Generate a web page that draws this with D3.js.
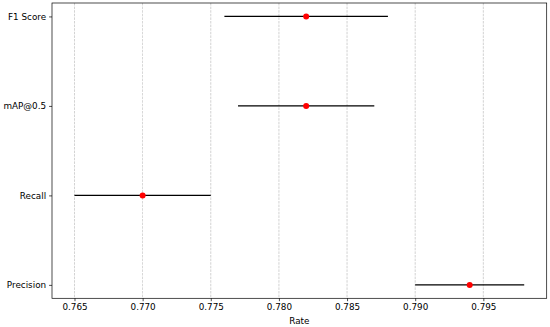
<!DOCTYPE html>
<html><head><meta charset="utf-8">
<script src="https://cdn.jsdelivr.net/npm/d3@7/dist/d3.min.js"></script>
<style>body{margin:0;background:#fff;} text{font-family:"DejaVu Sans",sans-serif;}</style>
</head><body><svg id="c" width="550" height="327"></svg>
<script>
const categories = ["Precision", "Recall", "mAP@0.5", "F1 Score"];
const means = [0.794, 0.770, 0.782, 0.782];
const lows = [0.790, 0.765, 0.777, 0.776];
const highs = [0.798, 0.775, 0.787, 0.788];
const xTicks = [0.765, 0.770, 0.775, 0.780, 0.785, 0.790, 0.795];

const svg = d3.select("#c");
const L = 52, R = 546.7, T = 3, B = 298.3;
const fs = 8.8;
const x = d3.scaleLinear().domain([0.76335, 0.79965]).range([L, R]);
const y = d3.scaleLinear().domain([-0.15, 3.15]).range([B, T]);

// grid
svg.append("g").selectAll("line").data(xTicks).join("line")
  .attr("x1", d => x(d)).attr("x2", d => x(d)).attr("y1", T).attr("y2", B)
  .attr("stroke", "#b0b0b0").attr("stroke-width", 0.7).attr("stroke-dasharray", "2.5,1.1").attr("opacity", 0.8);

// error bars
svg.append("g").selectAll("line").data(categories).join("line")
  .attr("x1", (d, i) => x(lows[i])).attr("x2", (d, i) => x(highs[i]))
  .attr("y1", (d, i) => y(i)).attr("y2", (d, i) => y(i))
  .attr("stroke", "black").attr("stroke-width", 1.4);

svg.append("g").selectAll("circle").data(categories).join("circle")
  .attr("cx", (d, i) => x(means[i])).attr("cy", (d, i) => y(i)).attr("r", 3)
  .attr("fill", "red");

// axes
const xa = svg.append("g").attr("transform", `translate(0,${B})`)
  .call(d3.axisBottom(x).tickValues(xTicks).tickFormat(d3.format(".3f")).tickSize(2.9).tickPadding(3));
const ya = svg.append("g").attr("transform", `translate(${L},0)`)
  .call(d3.axisLeft(y).tickValues([0,1,2,3]).tickFormat(i => categories[i]).tickSize(2.9).tickPadding(3));
[xa, ya].forEach(a => {
  a.selectAll("text").attr("font-size", fs).attr("fill", "black").attr("font-family", "DejaVu Sans");
  a.selectAll("line").attr("stroke", "black").attr("stroke-width", 0.7);
  a.select(".domain").remove();
});

svg.append("rect").attr("x", L).attr("y", T).attr("width", R - L).attr("height", B - T)
  .attr("fill", "none").attr("stroke", "black").attr("stroke-width", 0.7);

svg.append("text").attr("x", (L + R) / 2).attr("y", 323.5).attr("text-anchor", "middle")
  .attr("font-size", fs).text("Rate");
</script></body></html>
